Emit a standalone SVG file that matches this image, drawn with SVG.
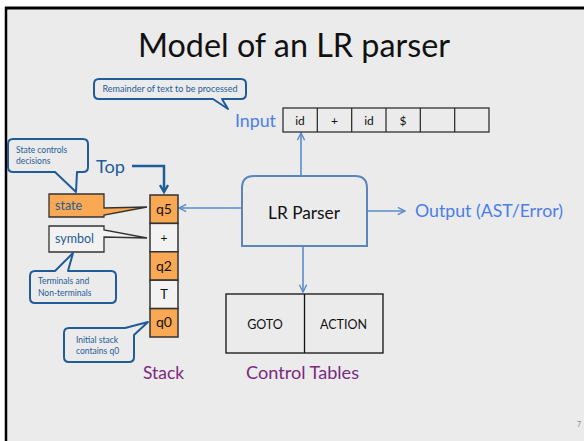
<svg xmlns="http://www.w3.org/2000/svg" width="584" height="441" viewBox="0 0 584 441">
<defs>
<style>
text{font-family:Lato,"Open Sans","DejaVu Sans",sans-serif}
.call{fill:#EBEBEB;stroke:#1F5C99;stroke-width:2;stroke-linejoin:round}
.ctext{font-size:8.5px;fill:#1F5C99}
.blue{fill:#4A7EEA;font-size:17px}
.purple{fill:#7A2A80;font-size:17px}
.cell{stroke:#333;stroke-width:1.5}
.or{fill:#F9A953}
.wh{fill:#F2F2F2}
.conn{stroke:#5B8CC8;stroke-width:1.6;fill:none}
.tape{fill:none;stroke:#222;stroke-width:1.2}
.blk{fill:#111}
</style>
<marker id="ah" viewBox="0 0 10 10" refX="9" refY="5" markerWidth="9" markerHeight="9" markerUnits="userSpaceOnUse" orient="auto">
<path d="M1,1 L9,5 L1,9" fill="none" stroke="#5B8CC8" stroke-width="1.6"/>
</marker>
<marker id="ahd" viewBox="0 0 10 10" refX="8" refY="5" markerWidth="10" markerHeight="10" markerUnits="userSpaceOnUse" orient="auto">
<path d="M1,1 L8,5 L1,9" fill="none" stroke="#1F5C99" stroke-width="2.4"/>
</marker>
</defs>
<rect x="0" y="0" width="584" height="441" fill="#FFFFFF"/>
<rect x="6" y="8" width="578" height="433" fill="#EBEBEB"/>
<line x1="5" y1="8" x2="584" y2="8" stroke="#000" stroke-width="3"/>
<line x1="6" y1="7" x2="6" y2="441" stroke="#000" stroke-width="2.5"/>
<text x="294" y="57" text-anchor="middle" font-size="33" fill="#111" textLength="312" lengthAdjust="spacingAndGlyphs">Model of an LR parser</text>

<g id="connectors">
<line class="conn" x1="301" y1="176" x2="301" y2="133" marker-end="url(#ah)"/>
<line class="conn" x1="367" y1="211" x2="405" y2="211" marker-end="url(#ah)"/>
<line class="conn" x1="303" y1="246" x2="303" y2="292" marker-end="url(#ah)"/>
<line class="conn" x1="242" y1="208" x2="179" y2="208" marker-end="url(#ah)"/>
<path d="M132,166 H164 V192" fill="none" stroke="#1F5C99" stroke-width="2.5" marker-end="url(#ahd)"/>
</g>

<g id="callout-remainder">
<path class="call" d="M99,79 H241 Q246,79 246,84 V94 Q246,99 241,99 H222 L228,109 L213,99 H99 Q94,99 94,94 V84 Q94,79 99,79 Z"/>
<text class="ctext" x="170" y="92" text-anchor="middle" textLength="135" lengthAdjust="spacingAndGlyphs">Remainder of text to be processed</text>
</g>

<g id="input">
<text class="blue" x="235" y="127" textLength="41" lengthAdjust="spacingAndGlyphs">Input</text>
<rect class="tape" x="283" y="108" width="206" height="24"/>
<line class="tape" x1="317.3" y1="108" x2="317.3" y2="132"/>
<line class="tape" x1="351.7" y1="108" x2="351.7" y2="132"/>
<line class="tape" x1="386" y1="108" x2="386" y2="132"/>
<line class="tape" x1="420.3" y1="108" x2="420.3" y2="132"/>
<line class="tape" x1="454.7" y1="108" x2="454.7" y2="132"/>
<g font-size="12" text-anchor="middle" class="blk">
<text x="300" y="125" class="blk">id</text>
<text x="334.5" y="125" class="blk">+</text>
<text x="369" y="125" class="blk">id</text>
<text x="403" y="125" class="blk">$</text>
</g>
</g>

<g id="parser">
<path d="M242,246 V188 Q242,176 254,176 H355 Q367,176 367,188 V246 Z" fill="#EBEBEB" stroke="#5A86B8" stroke-width="2"/>
<text x="304" y="219" text-anchor="middle" font-size="16.5" fill="#111" textLength="72" lengthAdjust="spacingAndGlyphs">LR Parser</text>
</g>

<g id="output">
<text class="blue" x="415" y="217" textLength="148" lengthAdjust="spacingAndGlyphs">Output (AST/Error)</text>
</g>

<g id="tables">
<rect x="226" y="294" width="157" height="59" fill="none" stroke="#111" stroke-width="1.3"/>
<line x1="304.5" y1="294" x2="304.5" y2="353" stroke="#111" stroke-width="1.3"/>
<text x="265" y="329" text-anchor="middle" font-size="12.5" fill="#111">GOTO</text>
<text x="343.5" y="329" text-anchor="middle" font-size="12.5" fill="#111">ACTION</text>
<text class="purple" x="302.5" y="379" text-anchor="middle" textLength="113" lengthAdjust="spacingAndGlyphs">Control Tables</text>
</g>

<g id="stack">
<rect class="cell or" x="150" y="195" width="28" height="28.4"/>
<rect class="cell wh" x="150" y="223.4" width="28" height="28.4"/>
<rect class="cell or" x="150" y="251.8" width="28" height="28.4"/>
<rect class="cell wh" x="150" y="280.2" width="28" height="28.4"/>
<rect class="cell or" x="150" y="308.6" width="28" height="28.4"/>
<g text-anchor="middle" fill="#111">
<text x="164" y="214" font-size="14">q5</text>
<text x="164" y="242" font-size="12">+</text>
<text x="164" y="271" font-size="14">q2</text>
<text x="164" y="299" font-size="13">T</text>
<text x="164" y="327" font-size="14">q0</text>
</g>
<text class="purple" x="163.5" y="379" text-anchor="middle" textLength="41" lengthAdjust="spacingAndGlyphs">Stack</text>
</g>

<g id="top">
<text x="96" y="173" font-size="17" fill="#1F5C99" textLength="29" lengthAdjust="spacingAndGlyphs">Top</text>
</g>

<g id="state">
<path d="M49,194 H104 V208 L147,207 L104,215 V217 H49 Z" fill="#F9A953" stroke="#333" stroke-width="1.3" stroke-linejoin="miter"/>
<text x="55" y="210" font-size="12.5" fill="#1F5C99">state</text>
</g>

<g id="symbol">
<path d="M49,226 H104 V230 L147,238 L104,237 V252 H49 Z" fill="#F2F2F2" stroke="#333" stroke-width="1.3"/>
<text x="55" y="243" font-size="12.5" fill="#1F5C99">symbol</text>
</g>

<g id="callout-state">
<path class="call" d="M13,139 H83 Q88,139 88,144 V167 Q88,172 83,172 H77 L76,192 L55,172 H13 Q8,172 8,167 V144 Q8,139 13,139 Z"/>
<text class="ctext" x="16" y="153">State controls</text>
<text class="ctext" x="16" y="164">decisions</text>
</g>

<g id="callout-terminals">
<path class="call" d="M35,271 H55 L73,253 L68,271 H111 Q116,271 116,276 V298 Q116,303 111,303 H35 Q30,303 30,298 V276 Q30,271 35,271 Z"/>
<text class="ctext" x="38" y="284">Terminals and</text>
<text class="ctext" x="38" y="296">Non-terminals</text>
</g>

<g id="callout-initial">
<path class="call" d="M69,328 H125 L148,322 L134,335 V357 Q134,362 129,362 H69 Q64,362 64,357 V333 Q64,328 69,328 Z"/>
<text class="ctext" x="76" y="343">Initial stack</text>
<text class="ctext" x="76" y="354">contains q0</text>
</g>

<text x="579" y="427" text-anchor="middle" font-size="7" fill="#888">7</text>
</svg>
